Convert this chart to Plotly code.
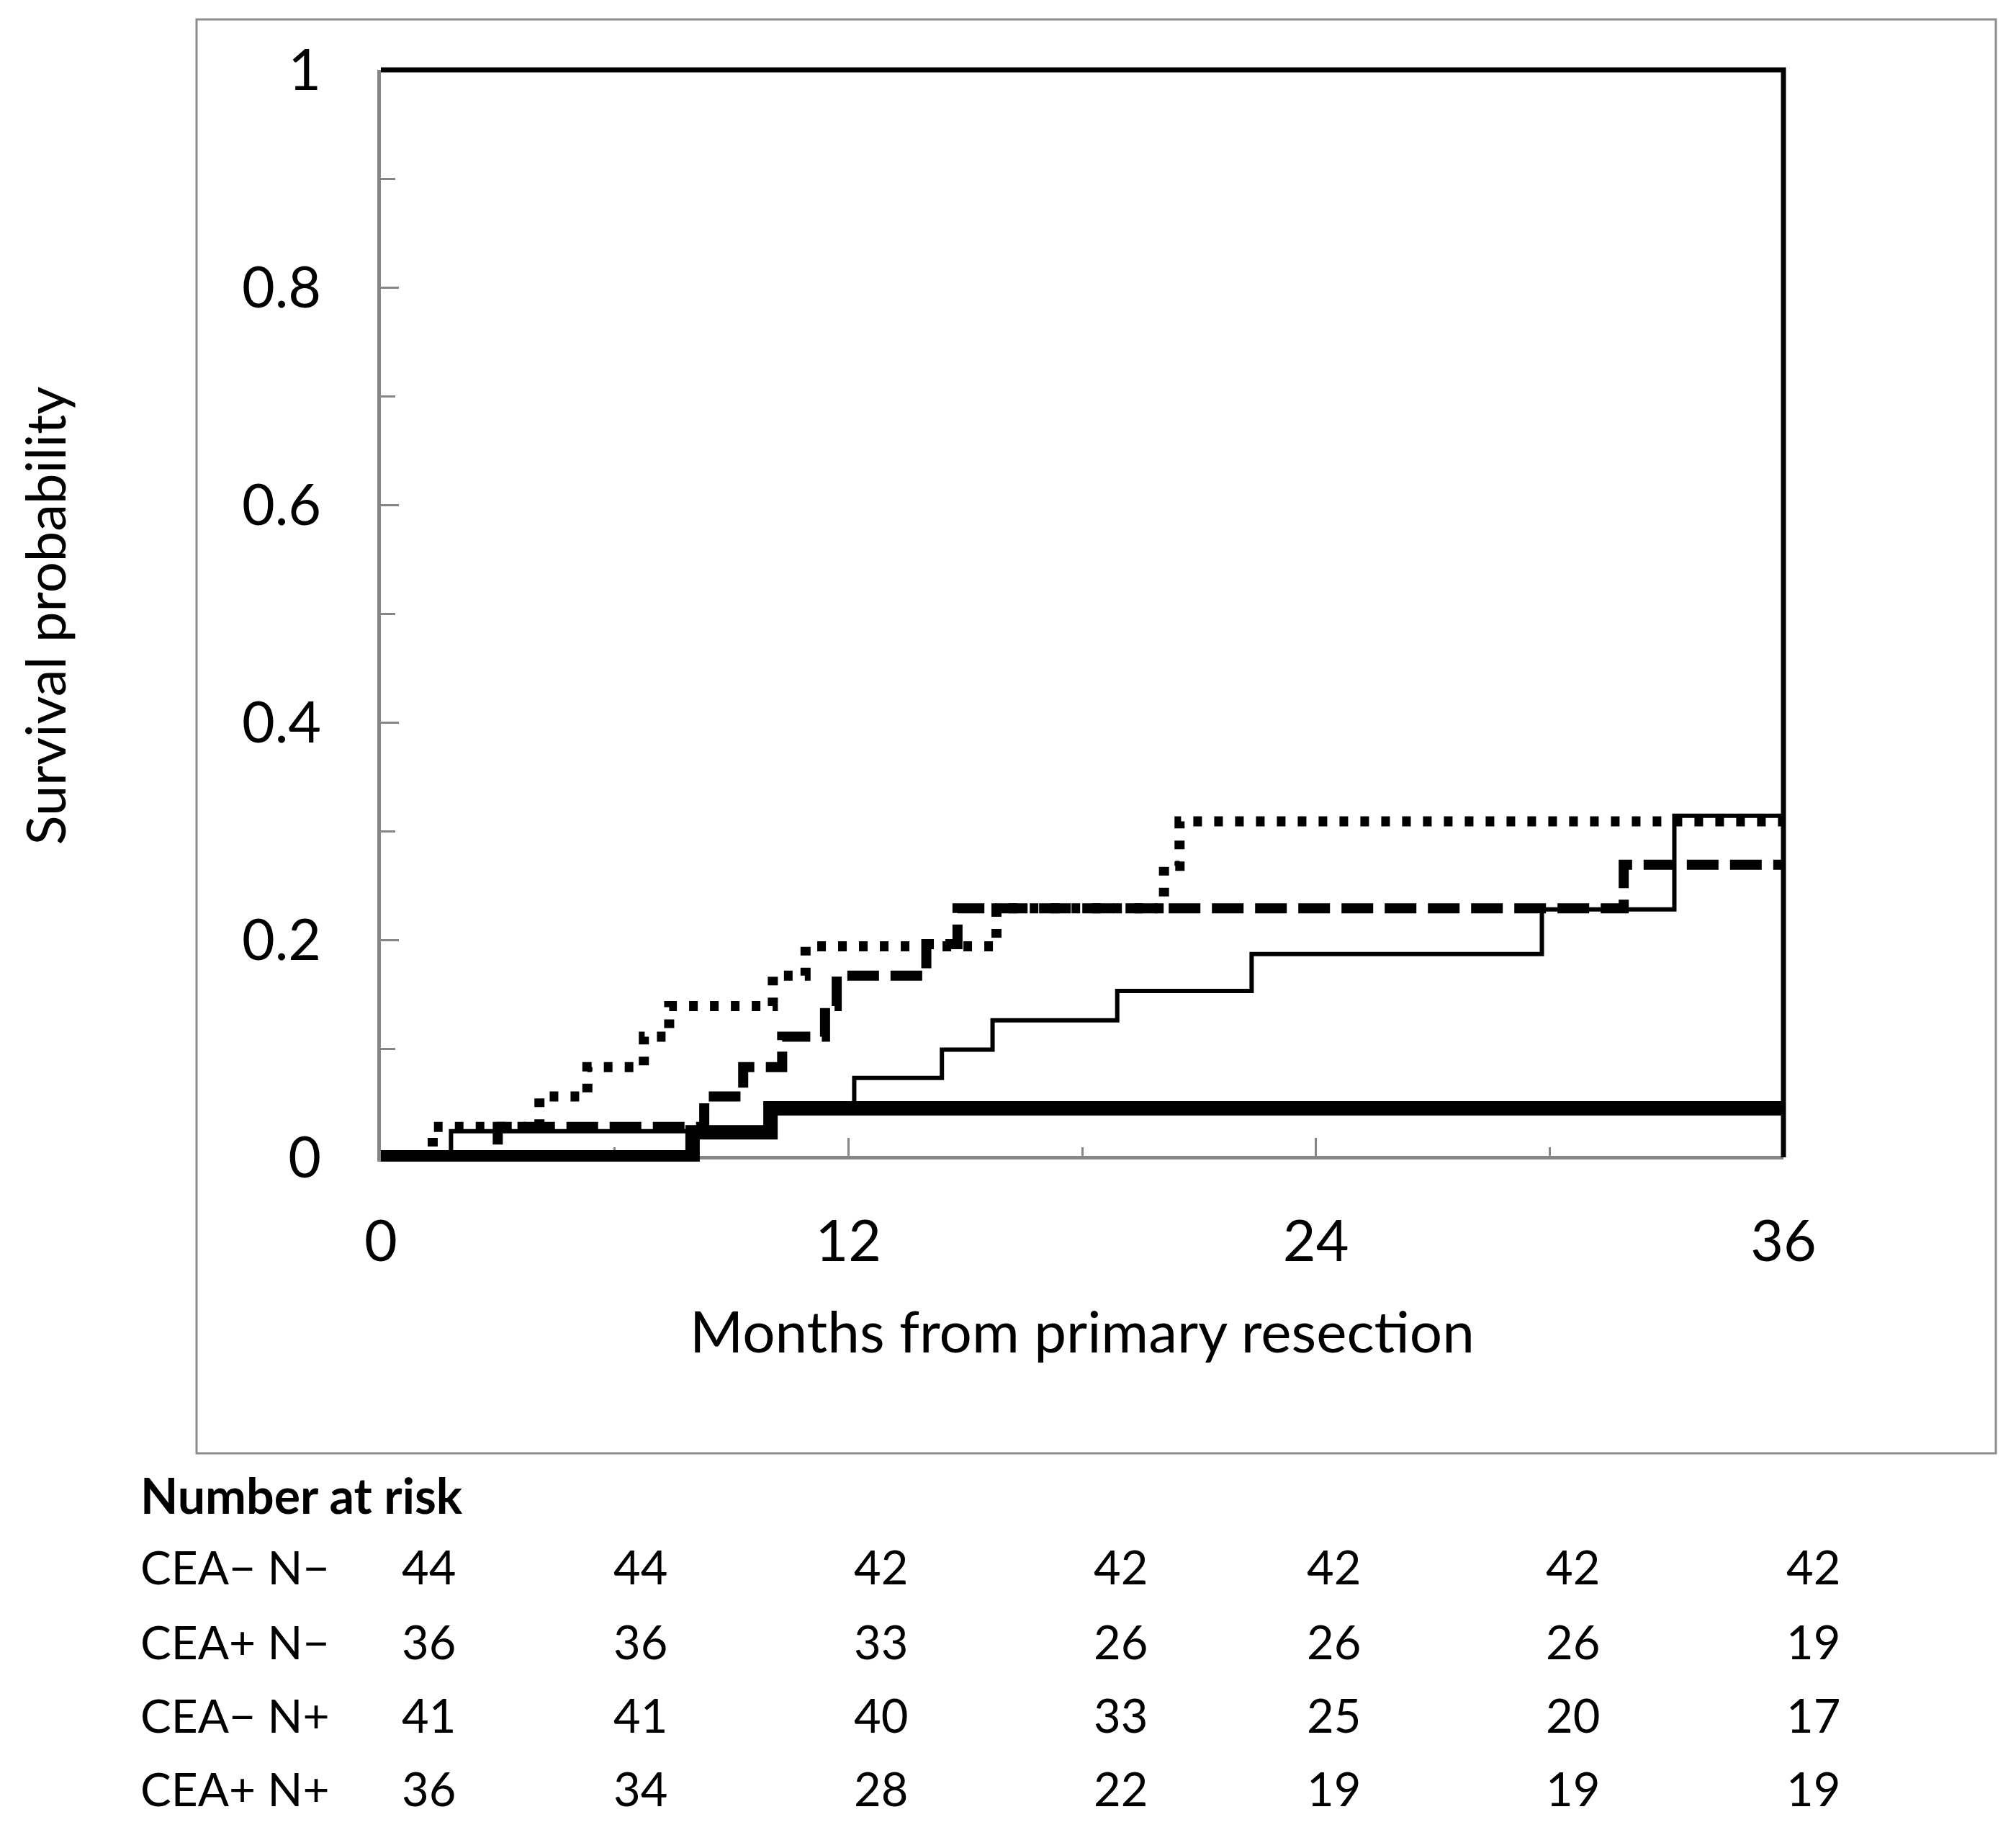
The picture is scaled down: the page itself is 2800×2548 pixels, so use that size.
import plotly.graph_objects as go

# ---- data (months, cumulative proportion) ----
# thick solid: CEA- N-
t_neg_neg = [0, 8.0, 10.0, 36]
p_neg_neg = [0, 0.023, 0.045, 0.045]

# thin solid: CEA- N+
t_neg_pos = [0, 1.8, 10.0, 12.15, 14.4, 15.7, 18.9, 22.35, 29.8, 33.2, 36]
p_neg_pos = [0, 0.024, 0.049, 0.073, 0.099, 0.126, 0.153, 0.187, 0.228, 0.314, 0.314]

# dashed: CEA+ N-
t_pos_neg = [0, 3.0, 8.3, 9.3, 10.3, 11.4, 11.7, 14.0, 14.8, 31.9, 36]
p_pos_neg = [0, 0.028, 0.056, 0.083, 0.111, 0.139, 0.167, 0.196, 0.229, 0.269, 0.269]

# dotted: CEA+ N+
t_pos_pos = [0, 1.33, 4.07, 5.3, 6.75, 7.4, 10.06, 10.9, 15.8, 20.1, 20.5, 36]
p_pos_pos = [0, 0.028, 0.056, 0.083, 0.111, 0.139, 0.167, 0.194, 0.229, 0.268, 0.309, 0.309]

# number at risk table
risk_groups = ["CEA\u2212 N\u2212", "CEA+ N\u2212", "CEA\u2212 N+", "CEA+ N+"]
risk_counts = [
    [44, 44, 42, 42, 42, 42, 42],
    [36, 36, 33, 26, 26, 26, 19],
    [41, 41, 40, 33, 25, 20, 17],
    [36, 34, 28, 22, 19, 19, 19],
]

x_ticks = [0, 12, 24, 36]

##########################################################
# layout geometry (pixels in a 2800x2548 page)
W, H = 2800, 2548
PL, PR, PT, PB = 529, 2477, 97, 1607
EXTRA = 6        # let the thick line show a little below the x axis
PBC = PB + EXTRA
OFF = 8          # page body margin added by the html wrapper
FONT = "Lato"
GREY = "#868686"


def px_x(px):
    return (px - PL) / (PR - PL)


def px_y(py):
    return (PBC - py) / (PBC - PT)


y0_paper = px_y(PB)

fig = go.Figure()

# thin solid, dashed, dotted, then thick solid on top
fig.add_trace(go.Scatter(x=t_neg_pos, y=p_neg_pos, mode="lines",
                         line=dict(shape="hv", color="black", width=6)))
fig.add_trace(go.Scatter(x=t_pos_neg, y=p_pos_neg, mode="lines",
                         line=dict(shape="hv", color="black", width=14, dash="44px,16px")))
fig.add_trace(go.Scatter(x=t_pos_pos, y=p_pos_pos, mode="lines",
                         line=dict(shape="hv", color="black", width=14, dash="12px,17px")))
fig.add_trace(go.Scatter(x=t_neg_neg, y=p_neg_neg, mode="lines",
                         line=dict(shape="hv", color="black", width=20)))

axis_common = dict(
    showgrid=False, zeroline=False, showline=True, linecolor=GREY, linewidth=5,
    ticks="inside", tickcolor=GREY, tickwidth=3, ticklen=25,
    tickfont=dict(family=FONT, size=79, color="black"),
    layer="below traces",
)

fig.update_xaxes(range=[0, 36], tickvals=x_ticks, ticklabelstandoff=46,
                 anchor="free", position=y0_paper,
                 minor=dict(ticks="inside", dtick=6, tick0=0, ticklen=12, tickwidth=3, tickcolor=GREY),
                 title=dict(text="Months from primary resection", standoff=55,
                            font=dict(family=FONT, size=80, color="black")),
                 **axis_common)
fig.update_yaxes(range=[-EXTRA / (PB - PT), 1], dtick=0.2, tick0=0, ticklabelstandoff=62,
                 minor=dict(ticks="inside", dtick=0.1, tick0=0, ticklen=20, tickwidth=3, tickcolor=GREY),
                 title=dict(text="Survival probability", standoff=221,
                            font=dict(family=FONT, size=76, color="black")),
                 **axis_common)

# black frame along top and right of plot area
fig.add_shape(type="path", xref="paper", yref="paper",
              path=f"M 0 1 L 1 1 L 1 {y0_paper:.5f}",
              line=dict(color="black", width=7))
# outer chart border
fig.add_shape(type="rect", xref="paper", yref="paper",
              x0=px_x(273), x1=px_x(2772), y0=px_y(2018), y1=px_y(27),
              line=dict(color="#8c8c8c", width=3))

# number at risk table
col_px = [595, 889, 1223, 1556, 1852, 2184, 2518]
row_px = [2175, 2279, 2381, 2483]
fig.add_annotation(x=px_x(193), y=px_y(2075), xref="paper", yref="paper",
                   text="<b>Number at risk</b>", showarrow=False, xanchor="left", yanchor="middle",
                   font=dict(family=FONT, size=68, color="black"))
for i, grp in enumerate(risk_groups):
    fig.add_annotation(x=px_x(193), y=px_y(row_px[i]), xref="paper", yref="paper",
                       text=grp, showarrow=False, xanchor="left", yanchor="middle",
                       font=dict(family=FONT, size=64, color="black"))
    for j, n in enumerate(risk_counts[i]):
        fig.add_annotation(x=px_x(col_px[j]), y=px_y(row_px[i]), xref="paper", yref="paper",
                           text=str(n), showarrow=False, xanchor="center", yanchor="middle",
                           font=dict(family=FONT, size=65, color="black"))

fig.update_layout(
    width=W, height=H,
    margin=dict(l=PL - OFF, r=W - PR + OFF, t=PT - OFF, b=H - PBC + OFF, pad=0),
    paper_bgcolor="white", plot_bgcolor="white",
    showlegend=False,
)

fig.write_html("out.html")
